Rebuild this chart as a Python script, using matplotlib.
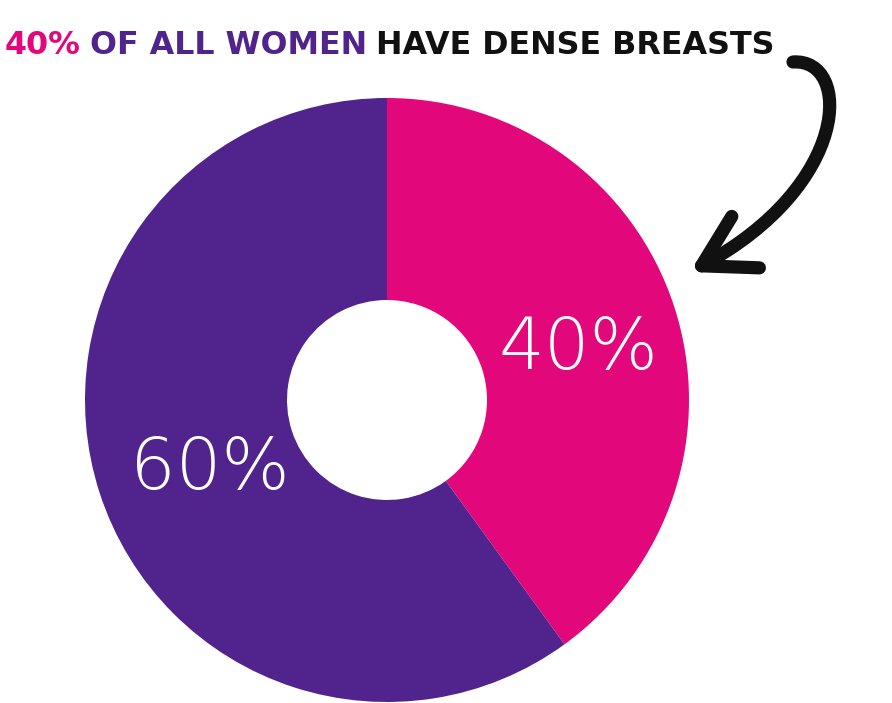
import matplotlib
matplotlib.use("Agg")
import matplotlib.pyplot as plt
from matplotlib.patches import FancyArrowPatch
from matplotlib.path import Path

# Datos del gráfico
categorias = ["Densas", "No densas"]
porcentajes = [40, 60]
etiquetas = ["40%", "60%"]
colores = ["#E2077B", "#50238D"]

titulo_partes = ["40%", "OF ALL WOMEN", "HAVE DENSE BREASTS"]
titulo_colores = ["#E2077B", "#50238D", "#111111"]

ANCHO, ALTO = 892, 703
fig = plt.figure(figsize=(ANCHO / 100, ALTO / 100), dpi=100)
ax = fig.add_axes([0, 0, 1, 1])

# Donut: centro y radio en píxeles (y hacia arriba)
cx, cy, r = 387, ALTO - 400, 302
ax.pie(porcentajes, colors=colores, startangle=90, counterclock=False,
       center=(cx, cy), radius=r, frame=True,
       wedgeprops=dict(width=r - 100, linewidth=0))
ax.set_xlim(0, ANCHO)
ax.set_ylim(0, ALTO)
ax.set_aspect("auto")
ax.axis("off")

fig.canvas.draw()
renderer = fig.canvas.get_renderer()


def ajustar(texto, ancho):
    # Reduce el tamaño de letra hasta que el texto quepa en el ancho dado
    bb = texto.get_window_extent(renderer)
    if bb.width > ancho:
        texto.set_fontsize(texto.get_fontsize() * ancho / bb.width)


fuente = "DejaVu Sans"

# Etiquetas de porcentaje
t40 = ax.text(578, ALTO - 350, etiquetas[0], color="white", fontsize=80,
              ha="center", va="center", family=fuente, fontweight="light")
ajustar(t40, 160)
t60 = ax.text(210, ALTO - 470, etiquetas[1], color="white", fontsize=80,
              ha="center", va="center", family=fuente, fontweight="light")
ajustar(t60, 160)

# Título en tres colores, mismo tamaño, uno detrás de otro
tam = 40
x_ini, x_fin, hueco = 5, 775, 9
textos = [ax.text(0, ALTO - 45, p, color=c, fontsize=tam, ha="left",
                  va="center", family=fuente, fontweight="bold")
          for p, c in zip(titulo_partes, titulo_colores)]
total = sum(t.get_window_extent(renderer).width for t in textos)
escala = (x_fin - x_ini - hueco * (len(textos) - 1)) / total
x = x_ini
for t in textos:
    t.set_fontsize(tam * escala)
    t.set_x(x)
    x += t.get_window_extent(renderer).width + hueco

# Flecha curva
verts = [(793, ALTO - 62), (852, ALTO - 58), (852, ALTO - 185), (690, ALTO - 272)]
codes = [Path.MOVETO, Path.CURVE4, Path.CURVE4, Path.CURVE4]
flecha = FancyArrowPatch(path=Path(verts, codes),
                         arrowstyle="->,head_length=0.6,head_width=0.35",
                         mutation_scale=60, color="#111111", linewidth=9.5,
                         capstyle="round", joinstyle="round")
ax.add_patch(flecha)

fig.savefig("out.png", dpi=100)
